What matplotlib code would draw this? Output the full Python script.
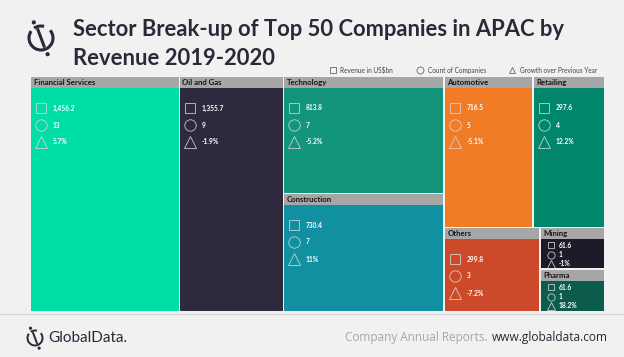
import matplotlib.pyplot as plt
from matplotlib.patches import Rectangle, Circle, Arc

# Data
sectors = ['Financial Services', 'Oil and Gas', 'Technology', 'Construction',
           'Automotive', 'Retailing', 'Others', 'Mining', 'Pharma']
revenue = ['1,456.2', '1,355.7', '813.8', '730.4', '716.5', '297.6', '299.8', '61.6', '61.6']
companies = [13, 9, 7, 7, 5, 4, 3, 1, 1]
growth = ['5.7%', '-1.9%', '-5.2%', '11%', '-5.1%', '12.2%', '-7.2%', '-1%', '18.2%']
colors = ['#00DEA7', '#2E293D', '#12957B', '#1190A1', '#F27B25', '#00876B',
          '#CC4A2A', '#1E1B29', '#0B5C4B']

# Treemap layout (pixel boxes: x0, y0, x1, y1), hand-arranged like the original
layout = [(31, 77, 179, 311), (180, 77, 283, 311), (284, 77, 443, 193),
          (284, 194, 443, 311), (445, 77, 532, 227), (534, 77, 604, 227),
          (445, 228, 539, 311), (541, 228, 604, 268), (541, 270, 604, 311)]
small = {'Mining', 'Pharma'}

fig = plt.figure(figsize=(6.24, 3.57), dpi=100)
fig.patch.set_facecolor('#F1F1F1')
ax = fig.add_axes([0, 0, 1, 1])
ax.set_xlim(0, 624)
ax.set_ylim(357, 0)
ax.axis('off')

dark = '#2B2838'


def logo(cx, cy, r, lw, dot):
    # circle broken by a slanted stroke, dots at both ends
    ax.add_patch(Arc((cx, cy), 2 * r, 2 * r, theta1=-40, theta2=215, lw=lw, color=dark))
    ax.add_patch(Arc((cx, cy), 2 * r, 2 * r, theta1=235, theta2=285, lw=lw, color=dark))
    ax.plot([cx - 0.3 * r, cx + 0.3 * r], [cy - 0.8 * r, cy + 0.8 * r], color=dark,
            lw=lw, solid_capstyle='butt')
    ax.add_patch(Circle((cx - 0.6 * r, cy - 1.3 * r), dot, color=dark))
    ax.add_patch(Circle((cx + 0.55 * r, cy + 1.35 * r), dot, color=dark))


logo(41, 38, 12, 2.2, 1.4)

ax.text(73, 36, 'Sector Break-up of Top 50 Companies in APAC by', fontsize=15.8,
        fontweight='bold', color=dark, family='Lato', va='baseline')
ax.text(73, 65, 'Revenue 2019-2020', fontsize=15.8,
        fontweight='bold', color=dark, family='Lato', va='baseline')

# legend
leg_items = [('s', 333, 'Revenue in US$bn'), ('o', 420, 'Count of Companies'),
             ('^', 512, 'Growth over Previous Year')]
for m, x, lab in leg_items:
    ax.plot(x, 70, marker=m, ms=5, mfc='none', mec='#666666', mew=0.6)
    ax.text(x + 7.5, 70.5, lab, fontsize=4.7, color='#444444', va='center', family='Lato')

# treemap
for name, rev, cnt, gr, col, (x0, y0, x1, y1) in zip(sectors, revenue, companies,
                                                     growth, colors, layout):
    ax.add_patch(Rectangle((x0, y0), x1 - x0, 10.5, color='#A6A6A6', lw=0))
    ax.add_patch(Rectangle((x0, y0 + 10.5), x1 - x0, y1 - y0 - 10.5, color=col, lw=0))
    ax.text(x0 + 2.5, y0 + 5.5, name, fontsize=5.6, fontweight='bold', color='#151515',
            va='center', family='Lato')
    if name in small:
        ys = [y0 + 17, y0 + 26.5, y0 + 36]
        ms, fs, mx, tx = 5, 4.8, 10, 18
    else:
        ys = [y0 + 31, y0 + 48, y0 + 65]
        ms, fs, mx, tx = 7.8, 4.8, 9.5, 22
    for m, yy, val in zip(['s', 'o', '^'], ys, [rev, str(cnt), gr]):
        ax.plot(x0 + mx, yy, marker=m, ms=ms * (0.95 if m == 's' else 1.05),
                mfc='none', mec='#D8D8D8', mew=0.6, alpha=0.9)
        ax.text(x0 + tx, yy, val, fontsize=fs, fontweight='bold', color='white',
                va='center', family='Lato')

# footer
ax.plot([0, 624], [314, 314], color='#D5D5D5', lw=0.8)
logo(35, 338, 7.5, 1.4, 0.9)
ax.text(48, 338.5, 'GlobalData.', fontsize=11, color=dark, va='center', family='Lato')
ax.text(608, 338, 'www.globaldata.com', fontsize=8.6, color=dark, va='center',
        ha='right', family='Open Sans')
ax.text(488, 338, 'Company Annual Reports.', fontsize=8.5, color='#A6A6A6', va='center',
        ha='right', family='Open Sans')

fig.savefig('out.png', dpi=100, facecolor=fig.get_facecolor())
